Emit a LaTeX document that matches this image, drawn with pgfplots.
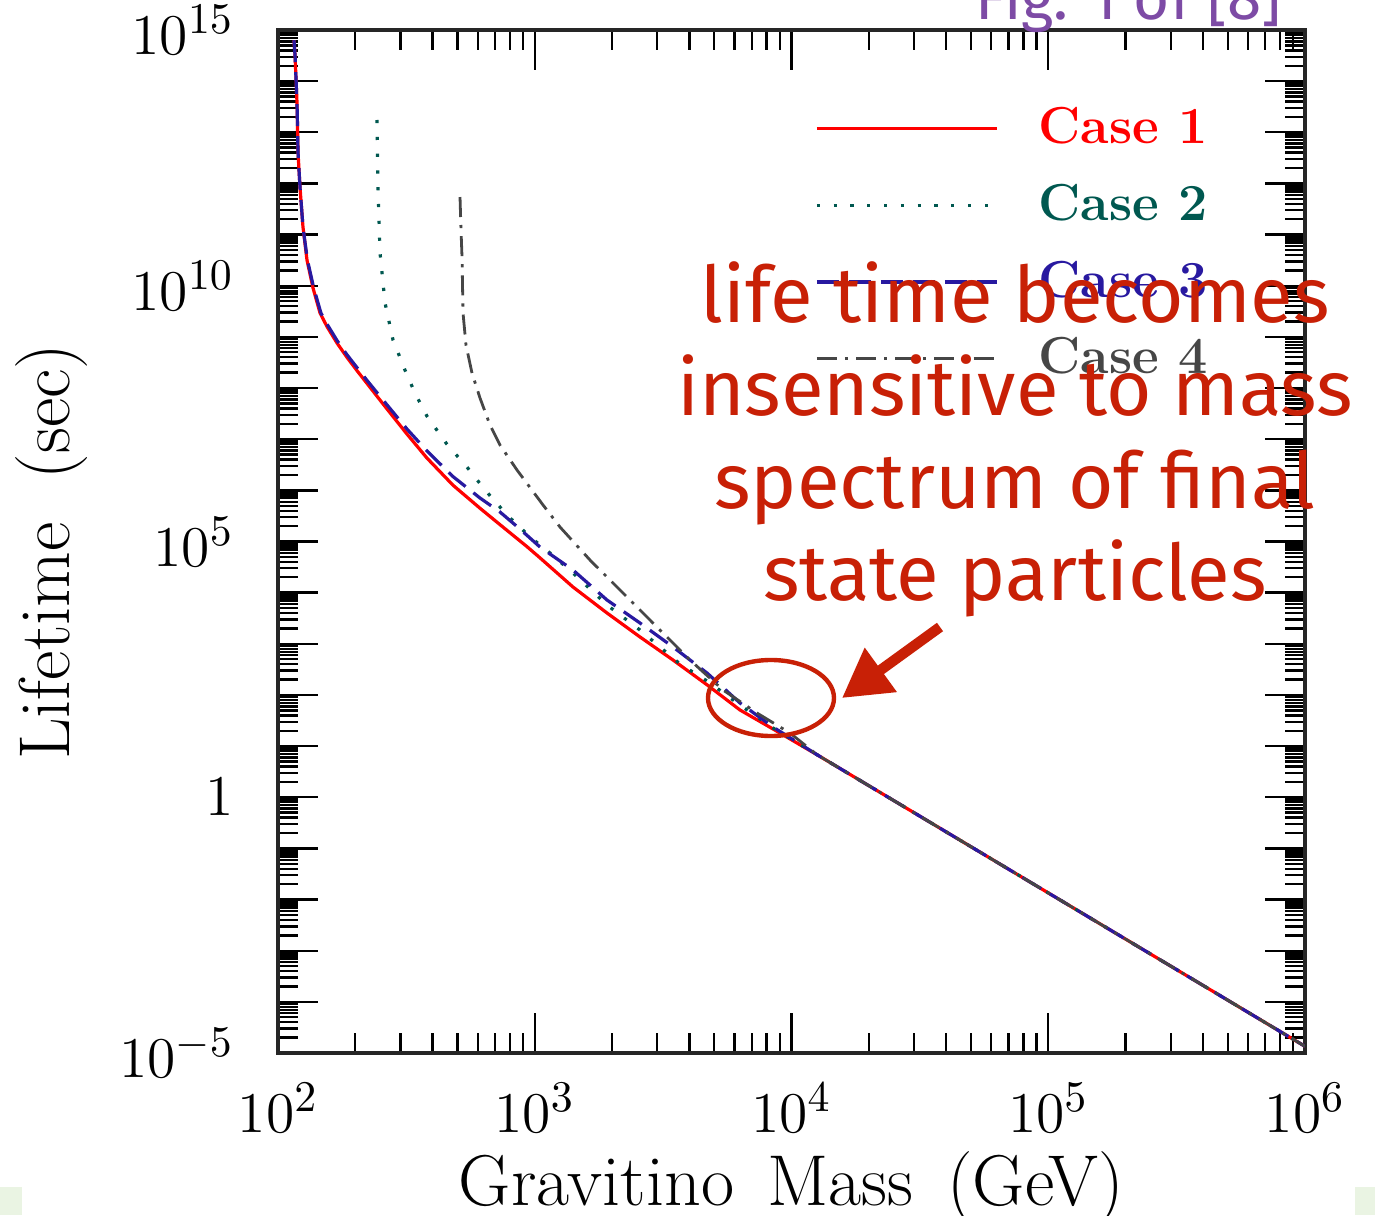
\documentclass[border=0pt]{standalone}
\usepackage{fontspec}
\usepackage{pgfplots}
\pgfplotsset{compat=1.18}
\usepackage{pgfplotstable}
\usetikzlibrary{arrows.meta}
\newfontfamily\annfont{Fira Sans}

\definecolor{caseone}{RGB}{255,0,0}
\definecolor{casetwo}{RGB}{0,88,80}
\definecolor{casethree}{RGB}{40,25,160}
\definecolor{casefour}{RGB}{70,70,70}
\definecolor{annored}{RGB}{200,32,6}
\definecolor{figpurple}{RGB}{125,75,165}
\definecolor{paleg}{RGB}{234,244,227}

% gravitino mass (GeV), lifetime (sec)
\pgfplotstableread{
m tau
115.4 6.31e14
116.5 3.24e14
118.6 3.74e13
119.7 3.94e12
121.8 8.53e11
125.1 1.41e11
129.7 3.18e10
136.9 9.04e9
145.8 2.93e9
155.2 1.59e9
169.8 7.59e8
185.7 3.98e8
203.1 2.19e8
222.2 1.23e8
243.0 6.92e7
265.9 3.89e7
318.0 1.26e7
380.5 4.27e6
480.4 1.26e6
612.1 4.47e5
732.0 2.14e5
932.8 7.94e4
1048 4.79e4
1409 1.29e4
1912 4.00e3
2570 1.36e3
3456 482
4687 158
6301 50.8
8472 21.6
12589 6.76
1e5 1.35e-2
1e6 1.35e-5
}\caseA

\pgfplotstableread{
m tau
243.0 1.74e13
245.2 8.53e11
249.7 4.37e10
261.2 4.60e9
280.5 8.69e8
312.3 2.25e8
341.7 7.94e7
380.5 2.82e7
455.2 7.94e6
544.5 2.86e6
640.0 1.02e6
779.8 3.30e5
958.3 1.23e5
1147 5.96e4
1409 2.42e4
1912 5.74e3
2570 1.86e3
3679 403
4687 188
6301 63.7
8472 22.6
12589 6.76
1e5 1.35e-2
1e6 1.35e-5
}\caseB

\pgfplotstableread{
m tau
115.4 6.31e14
116.5 3.24e14
118.6 3.74e13
119.7 3.94e12
121.8 8.53e11
125.1 1.41e11
130.2 3.18e10
137.8 9.04e9
147.0 2.93e9
155.2 1.78e9
169.8 8.51e8
185.7 4.47e8
203.1 2.51e8
222.2 1.41e8
243.0 8.13e7
265.9 4.68e7
318.0 1.58e7
380.5 5.89e6
480.4 1.86e6
612.1 7.08e5
732.0 3.78e5
876.2 1.75e5
1048 7.80e4
1409 2.77e4
1912 7.18e3
2570 2.55e3
3456 867
4687 269
6301 69.7
8472 23.6
12589 6.76
1e5 1.35e-2
1e6 1.35e-5
}\caseC

\pgfplotstableread{
m tau
511.6 5.43e11
516.2 1.23e11
520.9 3.65e10
525.6 2.93e9
539.8 6.95e8
569.6 1.97e8
612.1 6.38e7
669.4 1.90e7
732.0 7.71e6
852.9 2.50e6
1077 5.18e5
1254 1.92e5
1641 4.35e4
2207 9.84e3
2993 2.13e3
4025 482
5411 125
7337 44.4
9867 18.0
12589 6.76
1e5 1.35e-2
1e6 1.35e-5
}\caseD

\begin{document}
\begin{tikzpicture}
\useasboundingbox (0,0) rectangle (343.75pt,303.75pt);
\fill[paleg] (0,0) rectangle (5.5pt,7pt);
\fill[paleg] (338.75pt,0) rectangle (343.75pt,7pt);

\begin{axis}[
  at={(69.5pt,40.5pt)}, anchor=south west,
  scale only axis, width=256.75pt, height=255.75pt,
  xmode=log, ymode=log,
  xmin=1e2, xmax=1e6, ymin=1e-5, ymax=1e15,
  xtickten={2,...,6},
  ytickten={-5,...,15},
  yticklabels={$10^{-5}$,,,,,$1$,,,,,$10^{5}$,,,,,$10^{10}$,,,,,$10^{15}$},
  major tick length=10pt, minor tick length=5pt,
  every tick/.style={black, line width=0.6pt},
  axis line style={line width=1pt, black!85},
  tick label style={font=\fontsize{15}{17}\selectfont},
  yticklabel style={xshift=-7.5pt},
  xticklabel style={yshift=-4pt},
  xlabel={Gravitino\hspace{3pt} Mass\hspace{3pt} (GeV)},
  ylabel={Lifetime~~(sec)},
  every axis x label/.style={at={(axis description cs:0.5,-0.1486)}, anchor=base,
    font=\fontsize{18}{21}\selectfont},
  every axis y label/.style={at={(axis description cs:-0.2201,0.490)}, rotate=90, anchor=center,
    font=\fontsize{18}{21}\selectfont},
  legend image code/.code={\draw[#1] (0pt,0pt) -- (45pt,0pt);},
  legend cell align=left,
  legend style={draw=none, fill=none, inner sep=0pt,
    at={(axis description cs:0.906,0.925)}, anchor=north east,
    font=\fontsize{13}{15}\selectfont\bfseries,
    row sep=8.6pt,
    nodes={inner sep=0pt},
    /tikz/every odd column/.append style={column sep=10pt}},
]
\addplot[caseone, line width=0.8pt] table[x=m, y=tau]{\caseA};
\addlegendentry{\textcolor{caseone}{Case\ 1}}
\addplot[casetwo, line width=0.8pt, dash pattern=on 0.8pt off 3.4pt] table[x=m, y=tau]{\caseB};
\addlegendentry{\textcolor{casetwo}{Case\ 2}}
\addplot[casethree, line width=0.8pt, dash pattern=on 5.5pt off 2.5pt] table[x=m, y=tau]{\caseC};
\addlegendentry{\textcolor{casethree}{Case\ 3}}
\addplot[casefour, line width=0.7pt, dash pattern=on 5pt off 2pt on 0.8pt off 2pt] table[x=m, y=tau]{\caseD};
\addlegendentry{\textcolor{casefour}{Case\ 4}}
\end{axis}

\begin{scope}[x=0.25pt, y=-0.25pt, yshift=303.75pt]
  \node[anchor=base west, inner sep=0pt, text=figpurple, font=\annfont\fontsize{15.5}{18}\selectfont] at (975,19) {Fig. 1 of [8]};
  \begin{scope}[text=annored, font=\annfont\fontsize{19.5}{23}\selectfont]
    \node[anchor=base, inner sep=0pt] at (1015,322) {life time becomes};
    \node[anchor=base, inner sep=0pt] at (1015,415) {insensitive to mass};
    \node[anchor=base, inner sep=0pt] at (1015,508) {spectrum of final};
    \node[anchor=base, inner sep=0pt] at (1015,600) {state particles};
  \end{scope}
  \draw[annored, line width=1.1pt] (771,698) ellipse [x radius=15.75pt, y radius=9.5pt];
  \draw[annored, line width=2.6pt, -{Triangle[length=12pt,width=13pt]}] (940,627) -- (842,698);
\end{scope}
\end{tikzpicture}
\end{document}
